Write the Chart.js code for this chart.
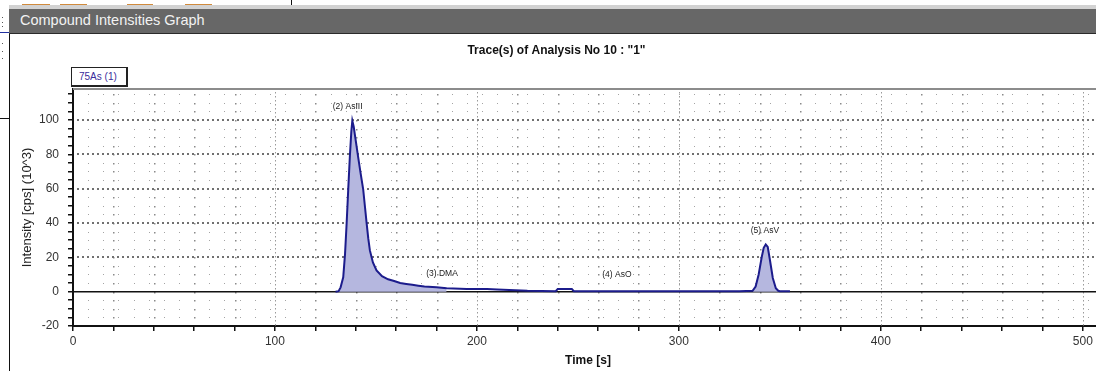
<!DOCTYPE html>
<html>
<head>
<meta charset="utf-8">
<script src="https://cdn.jsdelivr.net/npm/chart.js@4/dist/chart.umd.min.js"></script>
<style>
    html, body { margin: 0; padding: 0; }
    body { width: 1096px; height: 371px; overflow: hidden; position: relative; background: #fff; font-family: "Liberation Sans", Arial, sans-serif; }
    .abs { position: absolute; }
    .tab { top: 4px; height: 2px; background: #d08a3c; }
    .lightStrip { left: 9px; top: 5px; width: 1100px; height: 4px; background: #d2d2d2; }
    .titleBar { left: 9px; top: 9px; width: 1100px; height: 24px; background: #676767; border-bottom: 1px solid #2a2a2a; }
    .titleBar span { position: absolute; left: 11px; top: 3px; color: #f2f2f2; font-size: 14.5px; }
    .panelEdge { left: 9px; top: 34px; width: 1px; height: 340px; background: #111; }
    .sideDot { left: 2px; width: 1px; height: 1px; background: #555; }
    .legendBox { left: 71px; top: 67px; width: 54px; height: 17px; border: 1px solid #222; border-right-width: 2px; border-bottom-width: 2px; background: #fff; font-size: 10px; color: #3a2c9c; line-height: 17px; text-indent: 7px; }
    #chartWrap { left: 10px; top: 34px; width: 1132px; height: 337px; }
</style>
</head>
<body>
<div class="abs tab" style="left:22px;width:28px"></div>
<div class="abs tab" style="left:60px;width:27px"></div>
<div class="abs tab" style="left:127px;width:26px"></div>
<div class="abs tab" style="left:185px;width:27px"></div>
<div class="abs" style="left:291px;top:0;width:1px;height:6px;background:#111"></div>
<div class="abs lightStrip"></div>
<div class="abs titleBar"><span>Compound Intensities Graph</span></div>
<div class="abs sideDot" style="top:17px"></div>
<div class="abs sideDot" style="top:22px"></div>
<div class="abs sideDot" style="top:26px"></div>
<div class="abs sideDot" style="top:43px"></div>
<div class="abs sideDot" style="top:51px"></div>
<div class="abs sideDot" style="top:58px"></div>
<div class="abs" style="left:0;top:32px;width:9px;height:1px;background:#2030a0"></div>
<div class="abs" style="left:0;top:118px;width:9px;height:1px;background:#111"></div>
<div class="abs panelEdge"></div>
<div class="abs" id="chartWrap"><canvas id="traceChart" width="1132" height="337"></canvas></div>
<div class="abs legendBox">75As (1)</div>
<script>
// Retention time [s] and 75As intensity (10^3 cps) of the trace
const timeSec = [130, 131.5, 132.5, 133.8, 134.7, 135.5, 136.3, 137.1, 137.8, 138.3, 139, 140, 141.1, 142.4, 143.7,
    144.6, 145.4, 146.2, 147, 148.5, 150.3, 153, 156, 159, 162, 165, 168, 171, 174, 180, 185, 195, 205, 210, 225,
    239, 240, 247, 248, 260, 300, 330, 336.5, 338, 339.5, 341, 342, 343, 344, 345, 346.5, 348, 349.2, 350, 355];
const intensity = [0, 0.3, 2.5, 8.4, 22, 40, 60, 79, 93, 99.5, 96, 88, 79, 69, 59.4,
    49, 39.8, 31, 24, 17, 12.4, 9, 7.2, 6.2, 5, 4.5, 4, 3.5, 3, 2.5, 2, 1.5, 1.5, 1.2, 0.5,
    0.3, 1.5, 1.5, 0.3, 0.3, 0.3, 0.3, 0.5, 3, 10, 20, 25.5, 27.5, 26, 19, 8, 2, 0.5, 0.3, 0.3];

// Integrated peak windows [start, end] in seconds
const asIIIWindow = [131, 186];
const asVWindow = [336, 350];

// Peak annotations
const peakNames = ['(2) AsIII', '(3) DMA', '(4) AsO', '(5) AsV'];
const peakTimes = [136, 182.7, 269.3, 342.6];
const peakLabelY = [107.6, 10.5, 10, 35.7];

// Axis tick labels
const xTickLabels = [0, 100, 200, 300, 400, 500];
const yTickLabels = [-20, 0, 20, 40, 60, 80, 100];

const tracePoints = timeSec.map((t, i) => ({ x: t, y: intensity[i] }));
const inWindow = w => tracePoints.filter(p => p.x >= w[0] && p.x <= w[1]);

const stepTicks = (from, to, step) => {
    const out = [];
    for (let v = from; v <= to; v += step) out.push({ value: v });
    return out;
};

// dotted background grid, frame and zero line
const dotGrid = {
    id: 'dotGrid',
    beforeDatasetsDraw(chart) {
        const { ctx, chartArea: a, scales: { x, y } } = chart;
        ctx.save();
        // sparse lattice
        ctx.fillStyle = '#a4a4a4';
        for (let v = -15; v < 118; v += 5) {
            if (v % 20 === 0) continue;
            const py = Math.round(y.getPixelForValue(v));
            for (let t = 7.5; t < 510; t += 7.5) {
                ctx.fillRect(Math.round(x.getPixelForValue(t)), py, 1, 1);
            }
        }
        // columns at every x tick
        for (let t = 20; t < 510; t += 20) {
            const px = Math.round(x.getPixelForValue(t));
            if (t % 100 === 0) {
                ctx.fillStyle = '#9a9a9a';
                for (let py = a.top + 3; py < a.bottom; py += 4) ctx.fillRect(px, py, 1, 1.5);
            } else {
                ctx.fillStyle = '#8a8a8a';
                for (let v = -15; v < 118; v += 5) ctx.fillRect(px, Math.round(y.getPixelForValue(v)), 1.5, 1.5);
            }
        }
        // dotted rows on labelled y values
        ctx.fillStyle = '#707070';
        [20, 40, 60, 80, 100].forEach(v => {
            const py = Math.round(y.getPixelForValue(v)) - 1;
            for (let px = a.left + 4; px < a.right; px += 5) ctx.fillRect(px, py, 2, 2);
        });
        // top frame
        ctx.fillStyle = '#8c8c8c';
        ctx.fillRect(a.left, a.top - 1, a.right - a.left, 2);
        // zero line
        ctx.strokeStyle = '#111';
        ctx.lineWidth = 1.5;
        const zy = y.getPixelForValue(0);
        ctx.beginPath();
        ctx.moveTo(a.left, zy);
        ctx.lineTo(a.right, zy);
        ctx.stroke();
        ctx.restore();
    },
    afterDatasetsDraw(chart) {
        const { ctx, scales: { x, y } } = chart;
        ctx.save();
        ctx.font = '8.5px "Liberation Sans", Arial, sans-serif';
        ctx.fillStyle = '#222';
        ctx.textAlign = 'center';
        ctx.textBaseline = 'middle';
        peakNames.forEach((name, i) => {
            ctx.fillText(name, x.getPixelForValue(peakTimes[i]), y.getPixelForValue(peakLabelY[i]));
        });
        ctx.restore();
    }
};

const tickFont = { family: '"Liberation Sans", Arial, sans-serif', size: 12 };

new Chart(document.getElementById('traceChart'), {
    type: 'line',
    data: {
        datasets: [{
            label: '75As (1)',
            data: tracePoints,
            borderColor: '#1c1c8c',
            borderWidth: 2,
            pointRadius: 0,
            tension: 0,
            fill: false,
            order: 0
        }, {
            label: 'AsIII area',
            data: inWindow(asIIIWindow),
            backgroundColor: '#b5b7df',
            borderWidth: 0,
            pointRadius: 0,
            fill: 'origin',
            order: 1
        }, {
            label: 'AsV area',
            data: inWindow(asVWindow),
            backgroundColor: '#b5b7df',
            borderWidth: 0,
            pointRadius: 0,
            fill: 'origin',
            order: 1
        }]
    },
    options: {
        responsive: false,
        animation: false,
        devicePixelRatio: 1,
        layout: { padding: { right: 39 } },
        plugins: {
            legend: { display: false },
            tooltip: { enabled: false },
            title: {
                display: true,
                text: 'Trace(s) of Analysis No 10 : "1"',
                color: '#111',
                font: { family: '"Liberation Sans", Arial, sans-serif', size: 12, weight: 'bold' },
                padding: { top: 9, bottom: 31.6 }
            }
        },
        scales: {
            x: {
                type: 'linear',
                min: 0,
                max: 510,
                afterFit: scale => { scale.height = 45; },
                afterBuildTicks: scale => { scale.ticks = stepTicks(0, 500, 20); },
                ticks: {
                    stepSize: 20,
                    maxRotation: 0,
                    autoSkip: false,
                    padding: 3,
                    color: '#333',
                    font: tickFont,
                    callback: v => xTickLabels.includes(v) ? String(v) : ''
                },
                grid: { drawOnChartArea: false, drawTicks: true, tickLength: 5, color: '#111', lineWidth: 1.5 },
                border: { display: true, color: '#111', width: 2 },
                title: {
                    display: true,
                    text: 'Time [s]',
                    color: '#111',
                    font: { family: '"Liberation Sans", Arial, sans-serif', size: 12, weight: 'bold' },
                    padding: { top: 0, bottom: 3 }
                }
            },
            y: {
                min: -20,
                max: 118,
                afterFit: scale => { scale.width = 63; },
                afterBuildTicks: scale => { scale.ticks = stepTicks(-20, 115, 5); },
                ticks: {
                    stepSize: 5,
                    autoSkip: false,
                    padding: 9,
                    color: '#333',
                    font: tickFont,
                    callback: v => yTickLabels.includes(v) ? String(v) : ''
                },
                grid: { drawOnChartArea: false, drawTicks: true, tickLength: 5, color: '#111', lineWidth: 1.5 },
                border: { display: true, color: '#111', width: 2 },
                title: {
                    display: true,
                    text: 'Intensity [cps] (10^3)',
                    color: '#222',
                    font: { family: '"Liberation Sans", Arial, sans-serif', size: 13 },
                    padding: { top: 10, bottom: 0 }
                }
            }
        }
    },
    plugins: [dotGrid]
});
</script>
</body>
</html>
